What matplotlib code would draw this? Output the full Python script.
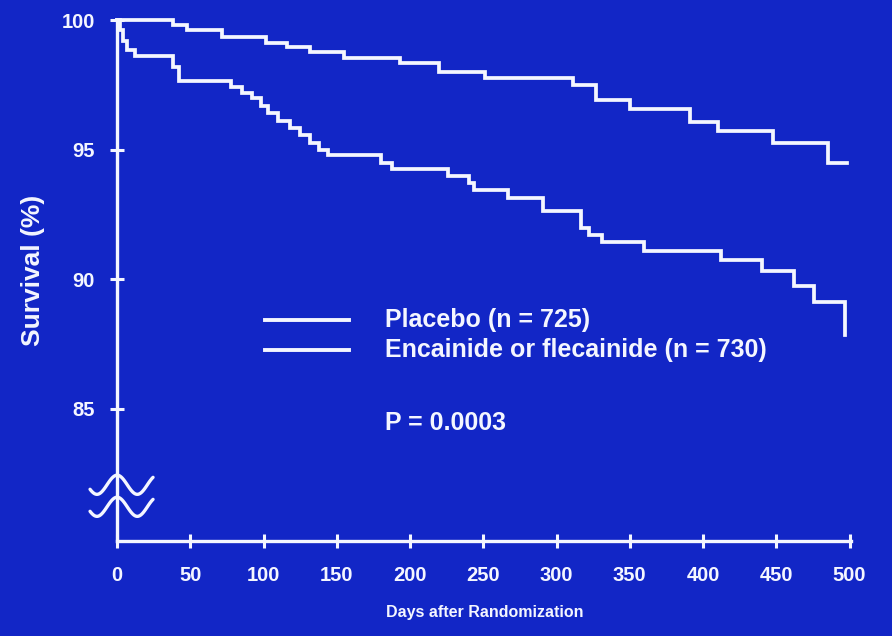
import numpy as np
import matplotlib
matplotlib.use("Agg")
import matplotlib.pyplot as plt
from matplotlib import font_manager
from matplotlib.lines import Line2D

# ---------------- data ----------------
placebo_days = [0, 38, 48, 72, 102, 116, 132, 155, 193, 220, 251, 311, 327,
                350, 391, 410, 448, 485, 498]
placebo_surv = [100, 99.8, 99.6, 99.35, 99.1, 98.95, 98.75, 98.55, 98.35, 98.0,
                97.75, 97.5, 96.9, 96.55, 96.05, 95.7, 95.25, 94.5, 94.5]

drug_days = [0, 2, 4, 7, 12, 38, 42, 78, 85, 92, 98, 103, 110, 118, 125, 132,
             138, 144, 180, 188, 226, 240, 244, 267, 291, 317, 322, 331, 360,
             412, 440, 462, 476, 497]
drug_surv = [100, 99.6, 99.2, 98.85, 98.6, 98.2, 97.65, 97.4, 97.2, 97.0, 96.7,
             96.4, 96.1, 95.85, 95.55, 95.25, 95.0, 94.8, 94.5, 94.25, 93.98,
             93.7, 93.45, 93.13, 92.63, 91.97, 91.7, 91.43, 91.08, 90.73,
             90.31, 89.73, 89.11, 87.84]

x_ticks = [0, 50, 100, 150, 200, 250, 300, 350, 400, 450, 500]
y_ticks = [85, 90, 95, 100]

legend_labels = ["Placebo (n = 725)", "Encainide or flecainide (n = 730)"]
p_text = "P = 0.0003"
x_label = "Days after Randomization"
y_label = "Survival (%)"

# ---------------- style ----------------
BG = "#1226c6"
FG = "#f4f6ff"
names = {f.name for f in font_manager.fontManager.ttflist}
NARROW = "Liberation Sans Narrow" if "Liberation Sans Narrow" in names else "Liberation Sans"
plt.rcParams["font.family"] = ["Liberation Sans", "DejaVu Sans"]

W, H = 892, 636
fig = plt.figure(figsize=(W / 100, H / 100), dpi=100, facecolor=BG)

def fx(px):
    return px / W

def fy(py):
    return 1 - py / H

left, right, top, bottom = 117, 851, 20, 541
ax = fig.add_axes([fx(left), fy(bottom), fx(right - left), fy(top) - fy(bottom)])
ax.set_facecolor(BG)
ax.set_xlim(0, 501)
ax.set_ylim(79.9, 100)

lw = 2.7
ax.step(placebo_days, placebo_surv, where="post", color=FG, lw=lw,
        clip_on=False, solid_joinstyle="miter")
ax.step(drug_days, drug_surv, where="post", color=FG, lw=lw,
        clip_on=False, solid_joinstyle="miter")

for s in ["top", "right"]:
    ax.spines[s].set_visible(False)
for s in ["left", "bottom"]:
    ax.spines[s].set_color(FG)
    ax.spines[s].set_linewidth(2.4)

ax.set_xticks(x_ticks)
ax.set_yticks(y_ticks)
ax.tick_params(axis="both", colors=FG, direction="inout", length=10, width=2.2)
ax.tick_params(axis="x", pad=13, labelsize=14.5)
ax.tick_params(axis="y", pad=11, labelsize=14.5)
for lab in ax.get_xticklabels() + ax.get_yticklabels():
    lab.set_fontweight("bold")
    lab.set_color(FG)

# axis break marks (decoration)
u = np.linspace(0, 1, 60)
bx = -18.4 + 43.0 * u
wave = np.sin(2 * np.pi * (u - 0.27) / 0.64)
for mid in (82.07, 81.22):
    ax.plot(bx, mid + 0.37 * wave, color=FG, lw=2.4, clip_on=False,
            solid_capstyle="round")

# labels
fig.text(fx(485), fy(612), x_label, ha="center", va="center", color=FG,
         fontsize=11.5, fontweight="bold", family=[NARROW, "DejaVu Sans"])
fig.text(fx(33), fy(270), y_label, ha="center", va="center", color=FG,
         rotation=90, fontsize=19, fontweight="bold", family=[NARROW, "DejaVu Sans"])

# legend
for py, lab in zip((320, 350), legend_labels):
    fig.add_artist(Line2D([fx(265), fx(349)], [fy(py), fy(py)], color=FG,
                          lw=2.8, transform=fig.transFigure))
    fig.text(fx(385), fy(py), lab, ha="left", va="center", color=FG,
             fontsize=18, fontweight="bold")
fig.text(fx(385), fy(423), p_text, ha="left", va="center", color=FG,
         fontsize=18, fontweight="bold")

fig.savefig("out.png", dpi=100, facecolor=BG)
